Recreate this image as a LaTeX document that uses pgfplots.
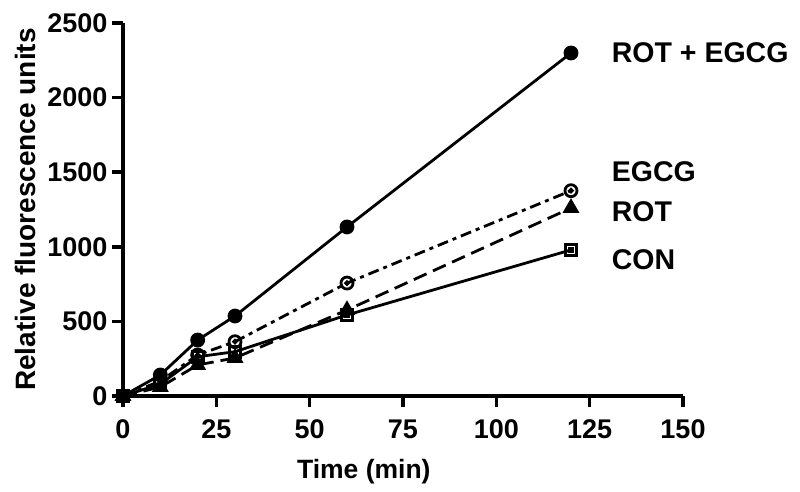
\documentclass[border=0pt]{standalone}
\usepackage{pgfplots}
\pgfplotsset{compat=1.18}
\usepackage{fontspec}
\setmainfont{Liberation Sans}
\begin{document}
\begin{tikzpicture}[x=1pt,y=1pt]
\path[use as bounding box] (0,0) rectangle (800,492);
\begin{axis}[
  at={(123pt,96pt)}, anchor=south west,
  scale only axis, width=560pt, height=373pt,
  xmin=0, xmax=150, ymin=0, ymax=2500,
  clip=false,
  axis lines=left,
  axis line style={line width=3.5pt, -},
  xtick={0,25,...,150}, ytick={0,500,...,2500},
  tick align=outside, major tick length=11pt,
  tick style={line width=3.5pt, black},
  minor tick num=0,
  ticklabel style={font=\fontsize{27}{30}\selectfont\bfseries},
  xticklabel style={yshift=-9pt},
  yticklabel style={xshift=-1pt},
  /pgf/number format/assume math mode=true,
  /pgf/number format/1000 sep={},
  xlabel={Time (min)}, ylabel={Relative fluorescence units},
  every axis x label/.style={at={(axis description cs:0.43,0)}, anchor=center, yshift=-76pt, font=\fontsize{26.5}{30}\selectfont\bfseries},
  every axis y label/.style={at={(axis description cs:-0.1735,0.5)}, anchor=center, rotate=90, font=\fontsize{28}{32}\selectfont\bfseries},
  every axis plot/.append style={line width=2.8pt, black},
]
\addplot[mark=*, mark size=6pt, mark options={solid}] coordinates {(0,0) (10,141) (20,375) (30,536) (60,1133) (120,2299)};
\addplot[mark=o, mark size=6pt, mark options={solid}, dash pattern=on 11pt off 5pt on 4pt off 5pt] coordinates {(0,0) (10,100) (20,275) (30,364) (60,757) (120,1376)};
\addplot[only marks, mark=*, mark size=1.3pt] coordinates {(20,275) (30,364) (60,757) (120,1376)};
\addplot[mark=triangle*, mark size=7pt, mark options={solid}, dash pattern=on 14pt off 7pt] coordinates {(0,0) (10,60) (20,208) (30,255) (60,576) (120,1260)};
\addplot[mark=square, mark size=5.5pt, mark options={solid}] coordinates {(0,0) (10,80) (20,263) (30,297) (60,543) (120,979)};
\addplot[only marks, mark=square*, mark size=1.2pt] coordinates {(60,543) (120,979)};
\node[anchor=west, font=\fontsize{28.5}{32}\selectfont\bfseries, inner sep=0pt] at (axis cs:130.9,2299) {ROT + EGCG};
\node[anchor=west, font=\fontsize{28.5}{32}\selectfont\bfseries, inner sep=0pt] at (axis cs:130.9,1501) {EGCG};
\node[anchor=west, font=\fontsize{28.5}{32}\selectfont\bfseries, inner sep=0pt] at (axis cs:130.9,1233) {ROT};
\node[anchor=west, font=\fontsize{28.5}{32}\selectfont\bfseries, inner sep=0pt] at (axis cs:130.9,911) {CON};
\end{axis}
\end{tikzpicture}
\end{document}
